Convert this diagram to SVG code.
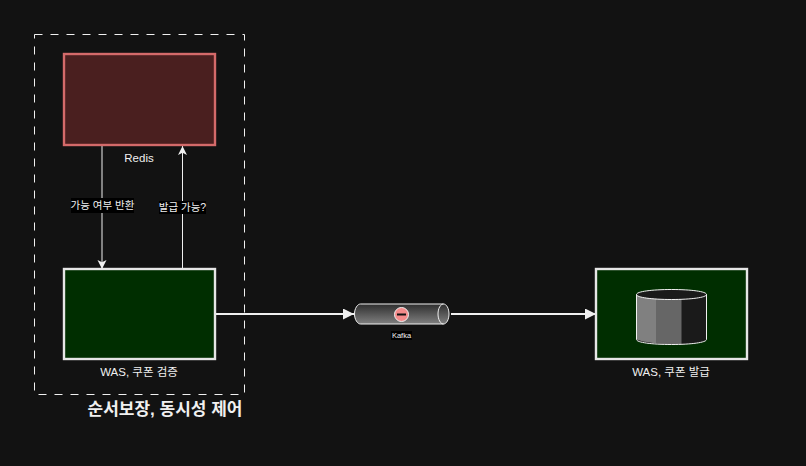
<svg xmlns="http://www.w3.org/2000/svg" width="806" height="466" viewBox="0 0 806 466">
<style>
text{font-family:"Liberation Sans","Noto Sans CJK KR",sans-serif;fill:#f0f0f0;text-anchor:middle;opacity:.999}
.l{font-size:11px}
.c{fill:none;stroke:#f0f0f0;stroke-width:1}
.g{fill:#002e00;stroke:#e6e6e6;stroke-width:2.400}
</style>
<defs>
<marker id="a" markerUnits="userSpaceOnUse" markerWidth="10" markerHeight="10" refX="9" refY="4.5" orient="auto"><path d="M0 0L9 4.5L0 9L2.2 4.5Z" fill="#f0f0f0"/></marker>
<marker id="b" markerUnits="userSpaceOnUse" markerWidth="12" markerHeight="12" refX="11" refY="5.5" orient="auto"><path d="M0 0L11 5.5L0 11Z" fill="#f0f0f0"/></marker>
<linearGradient id="k" x1="0" y1="0" x2="0" y2="1"><stop offset="0" stop-color="#2e2e2e"/><stop offset="1" stop-color="#808080"/></linearGradient>
</defs>
<rect width="806" height="466" fill="#121212"/>
<g id="group-box"><rect x="34.500" y="34.500" width="210" height="360" fill="none" stroke="#f0f0f0" stroke-width="1" stroke-dasharray="8 8"/>
<text x="165" y="414.500" font-size="17" font-weight="700">순서보장, 동시성 제어</text></g>
<g id="connectors">
<path class="c" d="M102 145V269" marker-end="url(#a)"/>
<path class="c" d="M182.500 269V146" marker-end="url(#a)"/>
<path d="M215 314H354" fill="none" stroke="#f0f0f0" stroke-width="2" marker-end="url(#b)"/>
<path d="M451 314H596" fill="none" stroke="#f0f0f0" stroke-width="2" marker-end="url(#b)"/>
<rect x="71" y="198" width="63" height="15" fill="#000"/>
<text class="l" x="102.500" y="209" style="font-size:10.500px">가능 여부 반환</text>
<rect x="159" y="201" width="47" height="13" fill="#000"/>
<text class="l" x="182.500" y="211" style="font-size:10.500px">발급 가능?</text>
</g>
<g id="redis"><rect x="64" y="54" width="151" height="91" fill="#4a1f1f" stroke="#d46a6a" stroke-width="2.400"/>
<text class="l" x="139" y="162" style="font-size:11.500px">Redis</text></g>
<g id="was-validate"><rect class="g" x="64" y="269" width="151" height="90"/>
<text class="l" x="139" y="376" style="font-size:11.500px">WAS, 쿠폰 검증</text></g>
<g id="kafka"><path d="M360.500 304H443.500C446.500 304 449 308.500 449 314C449 319.500 446.500 324 443.500 324H360.500C357.500 324 354.500 319.500 354.500 314C354.500 308.500 357.500 304 360.500 304Z" fill="url(#k)" stroke="#f0f0f0" stroke-width="1"/>
<path d="M443.500 304C440.500 304 438 308.500 438 314C438 319.500 440.500 324 443.500 324" fill="none" stroke="#f0f0f0"/>
<circle cx="401.500" cy="314.500" r="7" fill="#f48b8b" stroke="#f0f0f0"/>
<rect x="397" y="313.500" width="9" height="2" fill="#111"/>
<rect x="391" y="331" width="21" height="9" fill="#000"/>
<text x="401.500" y="338" font-size="7.500">Kafka</text></g>
<g id="was-issue"><rect class="g" x="596" y="269" width="151" height="90"/>
<path d="M636.500 295V339.500C636.500 342.500 652 344.500 671.500 344.500C691 344.500 706.500 342.500 706.500 339.500V295Z" fill="#1a1a1a"/>
<path d="M636.500 295V339.500C640 341 648 342.500 656 343.200V298Z" fill="#808080"/>
<path d="M656 298V343.200C664 344.300 672 344.500 681.500 344.200V299Z" fill="#666"/>
<ellipse cx="671.500" cy="294.500" rx="35" ry="5" fill="#1a1a1a"/>
<path d="M636.500 294.500C636.500 291.500 652 289.500 671.500 289.500C691 289.500 706.500 291.500 706.500 294.500C706.500 297.500 691 299.500 671.500 299.500C652 299.500 636.500 297.500 636.500 294.500V339.500C636.500 342.500 652 344.500 671.500 344.500C691 344.500 706.500 342.500 706.500 339.500V294.500" fill="none" stroke="#f0f0f0"/>
<text class="l" x="671" y="376" style="font-size:11.500px">WAS, 쿠폰 발급</text></g>
</svg>
